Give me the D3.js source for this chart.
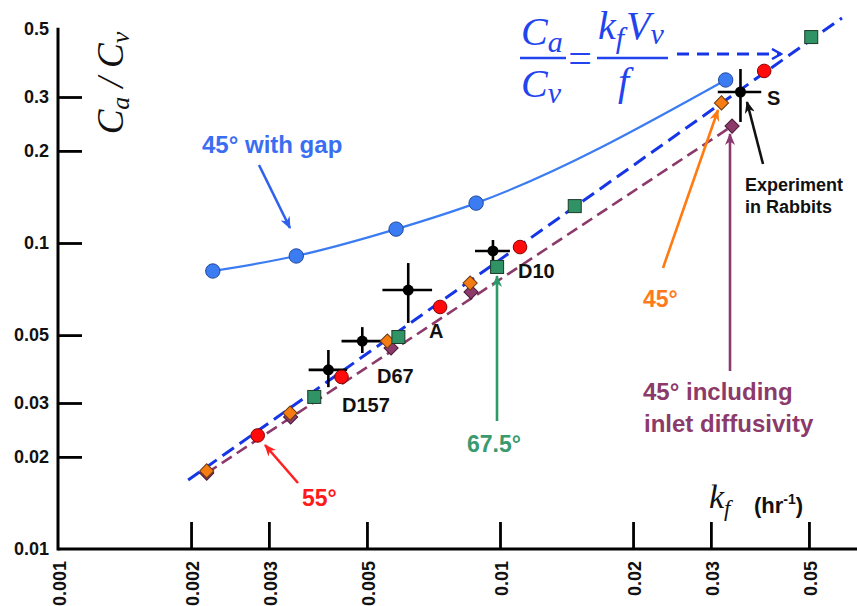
<!DOCTYPE html>
<html><head><meta charset="utf-8">
<script src="https://cdn.jsdelivr.net/npm/d3@7"></script>
<style>html,body{margin:0;padding:0;background:#fff;} svg{display:block;}</style>
</head><body>
<svg id="chart" width="857" height="606"></svg>
<script>
// ---------- data ----------
const xTicks = [0.001, 0.002, 0.003, 0.005, 0.01, 0.02, 0.03, 0.05];
const xTickLabels = ["0.001", "0.002", "0.003", "0.005", "0.01", "0.02", "0.03", "0.05"];
const yTicks = [0.01, 0.02, 0.03, 0.05, 0.1, 0.2, 0.3, 0.5];
const yTickLabels = ["0.01", "0.02", "0.03", "0.05", "0.1", "0.2", "0.3", "0.5"];
const xAxisEnd = 0.065, yAxisEnd = 0.505;

// 45° with gap (blue circles, solid curve)
const kfGap = [0.00224, 0.00346, 0.00582, 0.00883, 0.0324];
const rGap  = [0.081, 0.0907, 0.111, 0.135, 0.341];
// 55° (red circles)
const kf55 = [0.00283, 0.00438, 0.00732, 0.0111, 0.0396];
const r55  = [0.0235, 0.0365, 0.0618, 0.0970, 0.365];
// 67.5° (green squares)
const kf675 = [0.0038, 0.00589, 0.00985, 0.01476, 0.0506];
const r675  = [0.0314, 0.0493, 0.0835, 0.132, 0.471];
// 45° (orange diamonds)
const kf45 = [0.00217, 0.00335, 0.00556, 0.00856, 0.0317];
const r45  = [0.0180, 0.0278, 0.0478, 0.0740, 0.287];
// 45° including inlet diffusivity (purple diamonds)
const kf45d = [0.00217, 0.00336, 0.00567, 0.0086, 0.0335];
const r45d  = [0.0177, 0.0270, 0.0454, 0.0692, 0.241];
// Ca/Cv = kf Vv / f (blue dashed line)
const kfFit = [0.00197, 0.0594];
const rFit  = [0.0168, 0.544];
// experiments (black crosses)
const expNames = ["D157", "D67", "A", "D10", "S"];
const expK   = [0.00409, 0.00488, 0.0062, 0.00964, 0.035];
const expKlo = [0.00369, 0.00438, 0.00542, 0.00878, 0.0311];
const expKhi = [0.00451, 0.00545, 0.00702, 0.01053, 0.039];
const expR   = [0.0385, 0.0478, 0.0702, 0.0942, 0.3115];
const expRlo = [0.0338, 0.0437, 0.0548, 0.0867, 0.2486];
const expRhi = [0.0447, 0.0531, 0.0860, 0.1023, 0.3704];

// ---------- setup ----------
const svg = d3.select("#chart");
const x = d3.scaleLog().domain([0.001, 0.01]).range([58, 500]);
const y = d3.scaleLog().domain([0.01, 0.1]).range([549, 243]);
const SANS = "Arial, 'Liberation Sans', Helvetica, sans-serif";
const SERIF = "'Times New Roman', 'Liberation Serif', serif";

const C = {
  gap: "#3b7cf2", gapStroke: "#22489c",
  fit: "#1636e6",
  purple: "#8c3a6a", purpleStroke: "#4a1838",
  orange: "#f57c12", orangeStroke: "#6b3a10",
  red: "#ff0b0b", redStroke: "#8a0000",
  green: "#2f9365", greenStroke: "#1c3b28",
  greenText: "#3a9a6e", orangeText: "#ff7a1a", redText: "#ff1a1a", blueText: "#3a6ef2"
};

const defs = svg.append("defs");
function arrowMarker(id, color) {
  defs.append("marker").attr("id", id)
    .attr("viewBox", "0 0 12 10").attr("refX", 11).attr("refY", 5)
    .attr("markerWidth", 12).attr("markerHeight", 10)
    .attr("markerUnits", "userSpaceOnUse").attr("orient", "auto")
    .append("path").attr("d", "M0,0 L12,5 L0,10 L3.5,5 Z").attr("fill", color);
}
arrowMarker("aBlue", "#3060ee");
arrowMarker("aRed", "#ff2020");
arrowMarker("aGreen", "#2e9a6a");
arrowMarker("aOrange", "#ff7a10");
arrowMarker("aPurple", "#8b3a70");
arrowMarker("aBlack", "#111");
defs.append("marker").attr("id", "aChevron")
  .attr("viewBox", "0 0 12 12").attr("refX", 10).attr("refY", 6)
  .attr("markerWidth", 12).attr("markerHeight", 12)
  .attr("markerUnits", "userSpaceOnUse").attr("orient", "auto")
  .append("path").attr("d", "M1,1 L10,6 L1,11").attr("fill", "none")
  .attr("stroke", C.fit).attr("stroke-width", 2.5);

// ---------- axes ----------
const yAxis = d3.axisLeft(y).tickValues(yTicks).tickFormat((d, i) => yTickLabels[i]).tickSize(-24).tickPadding(9);
const gy = svg.append("g").attr("transform", `translate(${x(0.001)},0)`).call(yAxis);
gy.select(".domain").remove();
gy.selectAll(".tick line").attr("stroke", "#000").attr("stroke-width", 2.8);
gy.selectAll(".tick").filter(d => d === 0.5 || d === 0.01).select("line").remove();
gy.selectAll("text").attr("font-family", SANS).attr("font-weight", "bold").attr("font-size", 18).attr("fill", "#111");

const xAxis = d3.axisBottom(x).tickValues(xTicks).tickFormat((d, i) => xTickLabels[i]).tickSize(-27).tickPadding(0);
const gx = svg.append("g").attr("transform", `translate(0,${y(0.01)})`).call(xAxis);
gx.select(".domain").remove();
gx.selectAll(".tick line").attr("stroke", "#000").attr("stroke-width", 2.8);
gx.selectAll(".tick").filter(d => d === 0.001).select("line").remove();
gx.selectAll("text")
  .attr("transform", "rotate(-90)").attr("x", -12).attr("y", 1).attr("dy", "0.35em")
  .attr("text-anchor", "end")
  .attr("font-family", SANS).attr("font-weight", "bold").attr("font-size", 18).attr("fill", "#111");

svg.append("line").attr("x1", x(0.001)).attr("x2", x(xAxisEnd)).attr("y1", y(0.01)).attr("y2", y(0.01))
  .attr("stroke", "#000").attr("stroke-width", 3);
svg.append("line").attr("x1", x(0.001)).attr("x2", x(0.001)).attr("y1", y(0.01) + 1.5).attr("y2", y(yAxisEnd))
  .attr("stroke", "#000").attr("stroke-width", 3);

// ---------- lines ----------
const zip = (xs, ys) => xs.map((v, i) => [v, ys[i]]);
const line = d3.line().x(d => x(d[0])).y(d => y(d[1]));

svg.append("path").attr("d", line([zip(kf45d, r45d)[0], zip(kf45d, r45d)[kf45d.length - 1]]))
  .attr("fill", "none").attr("stroke", C.purple).attr("stroke-width", 2.6).attr("stroke-dasharray", "12,6");
svg.append("path").attr("d", line(zip(kfFit, rFit)))
  .attr("fill", "none").attr("stroke", C.fit).attr("stroke-width", 3).attr("stroke-dasharray", "14,7");
svg.append("path").attr("d", line.curve(d3.curveMonotoneX)(zip(kfGap, rGap)))
  .attr("fill", "none").attr("stroke", C.gap).attr("stroke-width", 2.2);

// ---------- experiment crosses ----------
const gExp = svg.append("g");
expNames.forEach((n, i) => {
  gExp.append("line").attr("x1", x(expKlo[i])).attr("x2", x(expKhi[i])).attr("y1", y(expR[i])).attr("y2", y(expR[i]))
    .attr("stroke", "#000").attr("stroke-width", 2.6);
  gExp.append("line").attr("x1", x(expK[i])).attr("x2", x(expK[i])).attr("y1", y(expRlo[i])).attr("y2", y(expRhi[i]))
    .attr("stroke", "#000").attr("stroke-width", 2.6);
  gExp.append("circle").attr("cx", x(expK[i])).attr("cy", y(expR[i])).attr("r", 5.5).attr("fill", "#000");
});

// ---------- markers ----------
const diamond = d3.symbol().type(d3.symbolSquare).size(100);
svg.append("g").selectAll("path").data(zip(kf45d, r45d)).join("path")
  .attr("d", diamond).attr("transform", d => `translate(${x(d[0])},${y(d[1])}) rotate(45)`)
  .attr("fill", C.purple).attr("stroke", C.purpleStroke).attr("stroke-width", 1);
svg.append("g").selectAll("path").data(zip(kf45, r45)).join("path")
  .attr("d", diamond).attr("transform", d => `translate(${x(d[0])},${y(d[1])}) rotate(45)`)
  .attr("fill", C.orange).attr("stroke", C.orangeStroke).attr("stroke-width", 1);
svg.append("g").selectAll("circle").data(zip(kf55, r55)).join("circle")
  .attr("cx", d => x(d[0])).attr("cy", d => y(d[1])).attr("r", 6.8)
  .attr("fill", C.red).attr("stroke", C.redStroke).attr("stroke-width", 1);
svg.append("g").selectAll("rect").data(zip(kf675, r675)).join("rect")
  .attr("x", d => x(d[0]) - 6.5).attr("y", d => y(d[1]) - 6.5).attr("width", 13).attr("height", 13)
  .attr("fill", C.green).attr("stroke", C.greenStroke).attr("stroke-width", 1);
svg.append("g").selectAll("circle").data(zip(kfGap, rGap)).join("circle")
  .attr("cx", d => x(d[0])).attr("cy", d => y(d[1])).attr("r", 7.2)
  .attr("fill", C.gap).attr("stroke", C.gapStroke).attr("stroke-width", 1);

// ---------- annotations ----------
function arrow(x1, y1, x2, y2, color, marker) {
  svg.append("line").attr("x1", x1).attr("y1", y1).attr("x2", x2).attr("y2", y2)
    .attr("stroke", color).attr("stroke-width", 2.6).attr("marker-end", `url(#${marker})`);
}
arrow(259, 165, 290, 228, "#3060ee", "aBlue");
arrow(298, 483, 265, 445, "#ff2020", "aRed");
arrow(497, 421, 497, 276, "#2e9a6a", "aGreen");
arrow(663, 268, 718, 110, "#ff7a10", "aOrange");
arrow(730, 371, 730, 134, "#8b3a70", "aPurple");
arrow(763, 164, 747, 102, "#111", "aBlack");
svg.append("line").attr("x1", 677).attr("y1", 54).attr("x2", 781).attr("y2", 54)
  .attr("stroke", C.fit).attr("stroke-width", 3).attr("stroke-dasharray", "12,8")
  .attr("marker-end", "url(#aChevron)");

function label(txt, lx, ly, size, color) {
  return svg.append("text").attr("x", lx).attr("y", ly).text(txt)
    .attr("font-family", SANS).attr("font-weight", "bold").attr("font-size", size).attr("fill", color);
}
label("45° with gap", 202, 153, 24, C.blueText);
label("55°", 302, 506, 23, C.redText);
label("67.5°", 467, 452, 23, C.greenText);
label("45°", 643, 307, 23, C.orangeText);
label("45° including", 643, 400, 24, C.purple);
label("inlet diffusivity", 644, 432, 24, C.purple);
label("Experiment", 745, 191, 18, "#111");
label("in Rabbits", 745, 213, 18, "#111");
label("D157", 342, 412, 20, "#111");
label("D67", 377, 383, 20, "#111");
label("A", 429, 338, 20, "#111");
label("D10", 518, 278, 20, "#111");
label("S", 767, 105, 20, "#111");

// y axis title  Ca / Cv
const yt = svg.append("text").attr("transform", "translate(123,83) rotate(-90)")
  .attr("text-anchor", "middle").attr("font-family", SERIF).attr("font-style", "italic")
  .attr("font-size", 37).attr("fill", "#111");
yt.append("tspan").text("C");
yt.append("tspan").text("a").attr("font-size", 26).attr("dy", 6);
yt.append("tspan").text(" / ").attr("dy", -6);
yt.append("tspan").text("C");
yt.append("tspan").text("v").attr("font-size", 26).attr("dy", 6);

// x axis title  kf (hr-1)
const xt = svg.append("text").attr("x", 709).attr("y", 508)
  .attr("font-family", SERIF).attr("font-style", "italic").attr("font-size", 34).attr("fill", "#111");
xt.append("tspan").text("k");
xt.append("tspan").text("f").attr("font-size", 23).attr("dy", 8);
const xu = svg.append("text").attr("x", 754).attr("y", 513)
  .attr("font-family", SANS).attr("font-weight", "bold").attr("font-size", 22).attr("fill", "#111");
xu.append("tspan").text("(hr");
xu.append("tspan").text("-1").attr("font-size", 14).attr("dy", -9);
xu.append("tspan").text(")").attr("dy", 9);

// formula
const FB = "#2244ee";
function ftext(fx, fy) {
  return svg.append("text").attr("x", fx).attr("y", fy).attr("font-family", SERIF)
    .attr("font-style", "italic").attr("font-size", 40).attr("fill", FB);
}
const f1 = ftext(521, 45); f1.append("tspan").text("C"); f1.append("tspan").text("a").attr("font-size", 30).attr("dy", 7);
const f2 = ftext(521, 97); f2.append("tspan").text("C"); f2.append("tspan").text("v").attr("font-size", 30).attr("dy", 6);
svg.append("line").attr("x1", 520).attr("x2", 566).attr("y1", 58).attr("y2", 58).attr("stroke", FB).attr("stroke-width", 2.4);
svg.append("text").attr("x", 580).attr("y", 72).attr("text-anchor", "middle").attr("font-family", SERIF)
  .attr("font-size", 42).attr("fill", FB).text("=");
const f3 = ftext(598, 39);
f3.append("tspan").text("k");
f3.append("tspan").text("f").attr("font-size", 30).attr("dy", 9);
f3.append("tspan").text("V").attr("dy", -9).attr("dx", 2);
f3.append("tspan").text("v").attr("font-size", 30).attr("dy", 5);
svg.append("line").attr("x1", 597).attr("x2", 668).attr("y1", 58).attr("y2", 58).attr("stroke", FB).attr("stroke-width", 2.4);
ftext(618, 95).text("f");
</script>
</body></html>
